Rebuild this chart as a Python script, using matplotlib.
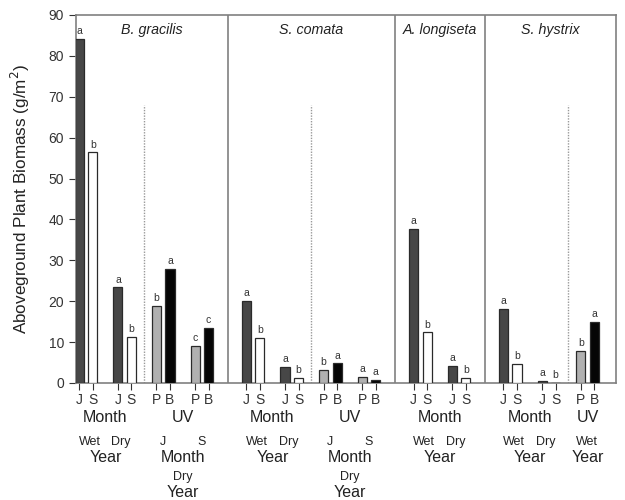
import matplotlib
matplotlib.use("Agg")
import matplotlib.pyplot as plt
import numpy as np

plt.rcParams["font.family"] = ["Liberation Sans", "DejaVu Sans"]

# ---- data ----
species = ["B. gracilis", "S. comata", "A. longiseta", "S. hystrix"]
group_species = [0, 0, 0, 0, 1, 1, 1, 1, 2, 2, 3, 3, 3]
group_kind = ["Month", "Month", "UV", "UV",
              "Month", "Month", "UV", "UV",
              "Month", "Month",
              "Month", "Month", "UV"]
left_vals = [84.1, 23.4, 18.9, 9.1, 20.1, 4.0, 3.2, 1.4, 37.6, 4.2, 18.1, 0.6, 7.8]
right_vals = [56.4, 11.3, 27.9, 13.5, 11.1, 1.2, 4.8, 0.7, 12.4, 1.2, 4.6, 0.1, 14.9]
left_letters = ["a", "a", "b", "c", "a", "a", "b", "a", "a", "a", "a", "a", "b"]
right_letters = ["b", "b", "a", "c", "b", "b", "a", "a", "b", "b", "b", "b", "a"]

# blocks of bottom labels
month_blocks = [(0, 1), (4, 5), (8, 9), (10, 11)]
month_years = ["Wet", "Dry"]
uv_blocks = [(2, 3, "Dry"), (6, 7, "Dry"), (12, 12, "Wet")]
uv_months = ["J", "S"]

colors = {"J": "#474747", "S": "#ffffff", "P": "#b0b0b0", "B": "#050505"}
EDGE = "#2a2a2a"
FRAME = "#808080"

# x positions: one unit per group, extra gap at each species border
PANEL_GAP = 0.33
x = np.array([i + PANEL_GAP * s for i, s in enumerate(group_species)], dtype=float)
off = 0.175
w = 0.235

fig = plt.figure(figsize=(6.25, 5), dpi=100)
ax = fig.add_axes([0.1216, 0.234, 0.864, 0.736])

tick_pos = []
tick_lab = []
for i in range(len(x)):
    if group_kind[i] == "Month":
        l_key, r_key = "J", "S"
    else:
        l_key, r_key = "P", "B"
    for xi, v, key, let in [(x[i] - off, left_vals[i], l_key, left_letters[i]),
                             (x[i] + off, right_vals[i], r_key, right_letters[i])]:
        ax.bar(xi, v, width=w, color=colors[key], edgecolor=EDGE, linewidth=0.9, zorder=3)
        ax.annotate(let, (xi, v), xytext=(0, 2), textcoords="offset points",
                    ha="center", va="bottom", fontsize=7.5, color="#333333")
        tick_pos.append(xi)
        tick_lab.append(key)

# species dividers and titles
bounds = [x[0] - 0.26]
for s in range(1, len(species)):
    first = group_species.index(s)
    xb = (x[first - 1] + x[first]) / 2
    ax.axvline(xb, color=FRAME, lw=1.2, zorder=2)
    bounds.append(xb)
bounds.append(x[-1] + 0.74)
for s, name in enumerate(species):
    ax.text((bounds[s] + bounds[s + 1]) / 2, 86.3, name, style="italic",
            ha="center", va="center", fontsize=10.3, color="#222222")

# dotted lines between Month and UV blocks
for b in uv_blocks:
    xd = (x[b[0] - 1] + x[b[0]]) / 2
    ax.plot([xd, xd], [0, 68], color="#999999", lw=1.0, ls=(0, (1, 1)), zorder=2)

ax.set_xlim(bounds[0], bounds[-1])
ax.set_ylim(0, 90)
ax.set_yticks(np.arange(0, 91, 10))
ax.set_xticks(tick_pos)
ax.set_xticklabels(tick_lab)
ax.tick_params(axis="y", labelsize=10, colors="#333333", direction="out", length=5)
ax.tick_params(axis="x", labelsize=10, colors="#333333", direction="out", length=5, pad=2)
for sp in ax.spines.values():
    sp.set_color(FRAME)
    sp.set_linewidth(1.2)
ax.set_ylabel("Aboveground Plant Biomass (g/m$^2$)", fontsize=12.3, color="#222222", labelpad=12)

# bottom hierarchy labels
tr = ax.get_xaxis_transform()
big = dict(ha="center", va="center", fontsize=11.5, color="#222222", transform=tr, clip_on=False)
small = dict(ha="center", va="center", fontsize=9, color="#222222", transform=tr, clip_on=False)
for a, b in month_blocks:
    xc = (x[a] + x[b]) / 2
    ax.text(xc, -0.095, "Month", **big)
    ax.text(x[a] + 0.09, -0.160, month_years[0], **small)
    ax.text(x[b] - 0.09, -0.160, month_years[1], **small)
    ax.text(xc, -0.203, "Year", **big)
for a, b, yr in uv_blocks:
    xc = (x[a] + x[b]) / 2
    ax.text(xc, -0.095, "UV", **big)
    if a != b:
        ax.text(x[a], -0.160, uv_months[0], **small)
        ax.text(x[b], -0.160, uv_months[1], **small)
        ax.text(xc, -0.203, "Month", **big)
        ax.text(xc, -0.256, yr, **small)
        ax.text(xc, -0.297, "Year", **big)
    else:
        ax.text(xc, -0.160, yr, **small)
        ax.text(xc, -0.203, "Year", **big)

fig.savefig("out.png", dpi=100)
